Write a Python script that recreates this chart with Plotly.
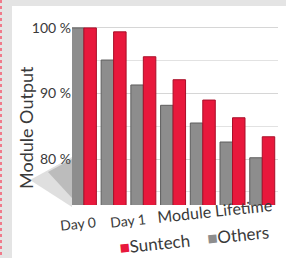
import plotly.graph_objects as go

stages = ["Day 0", "Day 1", "Year A", "Year B", "Year C", "Year D", "Year E"]
suntech = [100, 99.4, 95.6, 92.1, 89.0, 86.3, 83.4]
others = [100, 95.1, 91.3, 88.2, 85.5, 82.6, 80.2]
xlabels = ["Day 0", "Day 1", "Module Lifetime"]
ytick_vals = [80, 90, 100]
ytick_text = ["80 %", "90 %", "100 %"]
legend_names = ["Suntech", "Others"]
RED, GRAY = "#e8183c", "#8d8d8d"

W, H = 286, 258
ML, MR, MT, MB = 72, 8, 22, 53
PW, PH = W - ML - MR, H - MT - MB

def px_x(p):
    return (p - ML) / PW

def px_y(p):
    return 1 - (p - MT) / PH

def px_path(points):
    return "M " + " L ".join(f"{px_x(a):.4f},{px_y(b):.4f}" for a, b in points) + " Z"

FONT = "Lato"
TXT = "#3a3a3a"

xs = list(range(len(stages)))
fig = go.Figure()
fig.add_trace(go.Bar(x=xs, y=others, name=legend_names[1],
                     marker=dict(color=GRAY, line=dict(color="#5e5e5e", width=1))))
fig.add_trace(go.Bar(x=xs, y=suntech, name=legend_names[0],
                     marker=dict(color=RED, line=dict(color="#a80f28", width=1))))

# x label placement (pixel centres in the picture)
xlab_pos = [(78, 223, 14), (128, 220, 14), (214, 210, 16)]
annotations = [
    dict(text="Module Output", xref="paper", yref="paper", x=px_x(26), y=px_y(128),
         xanchor="center", yanchor="middle", textangle=-90, showarrow=False,
         font=dict(size=18, color=TXT)),
]
for lab, (px, py, fs) in zip(xlabels, xlab_pos):
    annotations.append(dict(text=lab, xref="paper", yref="paper", x=px_x(px), y=px_y(py),
                            xanchor="center", yanchor="middle", textangle=-6, showarrow=False,
                            font=dict(size=fs, color=TXT)))
legend_text = (f'<span style="color:{RED}">■</span>{legend_names[0]}'
               f'&nbsp;&nbsp;&nbsp;&nbsp;<span style="color:{GRAY}">■</span>{legend_names[1]}')
annotations.append(dict(text=legend_text, xref="paper", yref="paper", x=px_x(194), y=px_y(239),
                        xanchor="center", yanchor="middle", textangle=-6, showarrow=False,
                        font=dict(size=17, color=TXT)))

fig.update_layout(
    width=W, height=H,
    margin=dict(l=ML, r=MR, t=MT, b=MB),
    paper_bgcolor="#e4e4e4",
    plot_bgcolor="white",
    barmode="group", bargap=0.16, bargroupgap=0,
    font=dict(family=FONT, color=TXT, size=14),
    showlegend=False,
    xaxis=dict(range=[-0.4, 6.53], showticklabels=False, showgrid=False, zeroline=False,
               showline=False, ticks="", automargin=False),
    yaxis=dict(range=[73.0, 100.9], tickvals=ytick_vals, ticktext=ytick_text,
               showgrid=True, gridcolor="#d6d6d6", gridwidth=1, zeroline=False,
               showline=False, ticks="", ticklabelstandoff=0, tickfont=dict(size=14),
               automargin=False,
               minor=dict(dtick=5, showgrid=True, gridcolor="#e2e2e2")),
    shapes=[
        dict(type="rect", xref="paper", yref="paper", x0=px_x(12), x1=px_x(W + 2),
             y0=px_y(6), y1=px_y(H + 2), fillcolor="white", line=dict(width=0), layer="below"),
        dict(type="path", xref="paper", yref="paper",
             path=px_path([(30, 180), (72, 157), (72, 207)]),
             fillcolor="rgba(185,185,185,0.45)", line=dict(width=0), layer="below"),
        dict(type="path", xref="paper", yref="paper",
             path=px_path([(48, 172), (72, 159), (72, 198)]),
             fillcolor="rgba(135,135,135,0.4)", line=dict(width=0), layer="below"),
        dict(type="line", xref="paper", yref="paper", x0=px_x(1), x1=px_x(1),
             y0=px_y(0), y1=px_y(H), line=dict(color="#f07a8a", width=2, dash="dot")),
    ],
    annotations=annotations,
)

fig.write_html("out.html", config={"displayModeBar": False},
               post_script="document.body.style.margin='0';")
